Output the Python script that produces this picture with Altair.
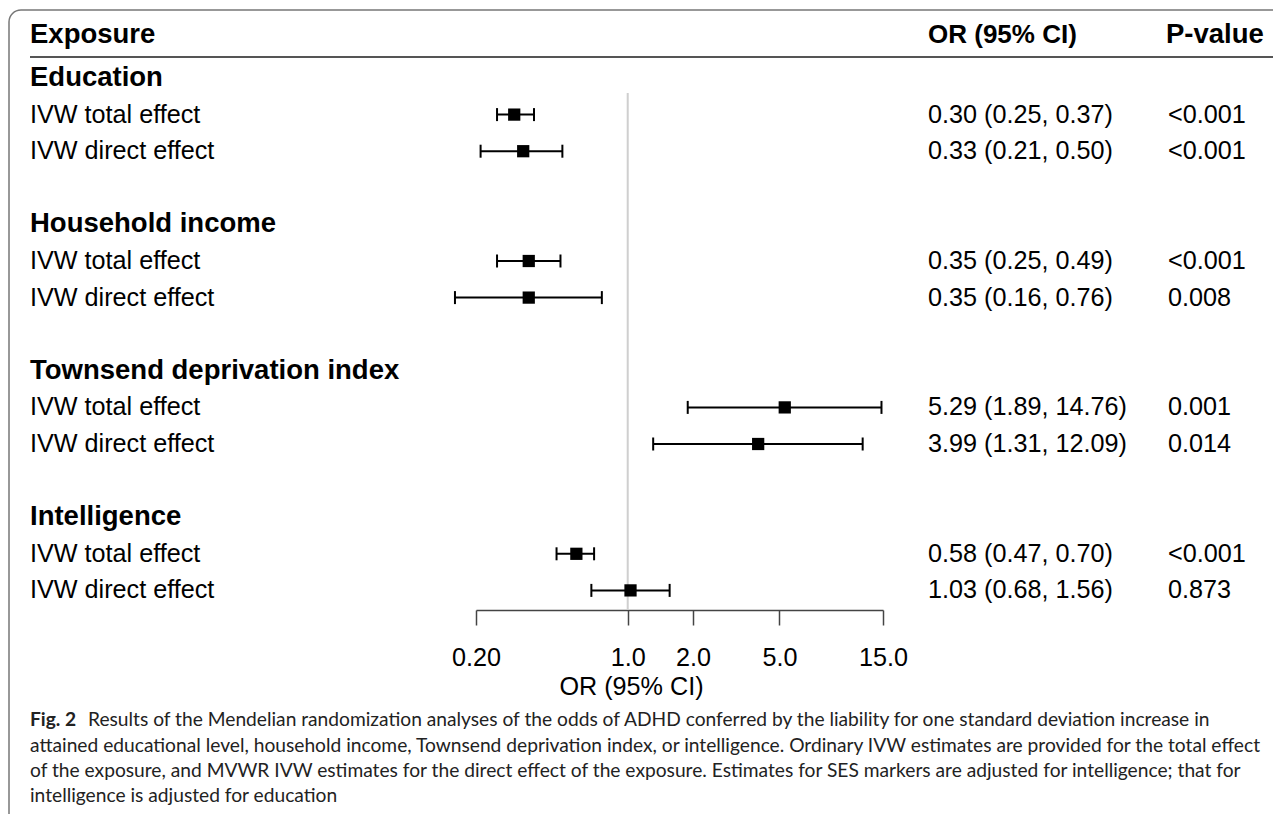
import altair as alt
import pandas as pd

# ---------------- data ----------------
groups = ["Education", "Household income", "Townsend deprivation index", "Intelligence"]
effects = ["IVW total effect", "IVW direct effect"]
or_est = [0.30, 0.33, 0.35, 0.35, 5.29, 3.99, 0.58, 1.03]
ci_lo = [0.25, 0.21, 0.25, 0.16, 1.89, 1.31, 0.47, 0.68]
ci_hi = [0.37, 0.50, 0.49, 0.76, 14.76, 12.09, 0.70, 1.56]
p_values = ["<0.001", "<0.001", "<0.001", "0.008", "0.001", "0.014", "<0.001", "0.873"]
headers = ["Exposure", "OR (95% CI)", "P-value"]
tick_values = [0.2, 1.0, 2.0, 5.0, 15.0]
axis_title = "OR (95% CI)"
caption_bold = "Fig. 2"
caption_lines = [
    "Results of the Mendelian randomization analyses of the odds of ADHD conferred by the liability for one standard deviation increase in",
    "attained educational level, household income, Townsend deprivation index, or intelligence. Ordinary IVW estimates are provided for the total effect",
    "of the exposure, and MVWR IVW estimates for the direct effect of the exposure. Estimates for SES markers are adjusted for intelligence; that for",
    "intelligence is adjusted for education",
]

# rows: each group takes a heading row, two effect rows and a blank row
grp_rows, eff_rows = [], []
k = 0
for gi, g in enumerate(groups):
    grp_rows.append({"row": gi * 4, "label": g})
    for ei, e in enumerate(effects):
        eff_rows.append({
            "row": gi * 4 + 1 + ei,
            "label": e,
            "est": or_est[k],
            "lo": ci_lo[k],
            "hi": ci_hi[k],
            "ortxt": f"{or_est[k]:.2f} ({ci_lo[k]:.2f}, {ci_hi[k]:.2f})",
            "p": p_values[k],
        })
        k += 1
grp_df = pd.DataFrame(grp_rows)
eff_df = pd.DataFrame(eff_rows)
one = pd.DataFrame({"a": [0]})

FONT = "Liberation Sans"
CAPFONT = "Lato"
FS = 25.2
HFS = 27.5
CFS = 19.2

xscale = alt.Scale(type="log", domain=[0.2, 15], range=[468, 875], nice=False)
yscale = alt.Scale(domain=[0, 14], range=[70, 582.4], nice=False, zero=False)

xaxis = alt.Axis(
    values=tick_values,
    labelExpr="datum.value < 0.5 ? format(datum.value, '.2f') : format(datum.value, '.1f')",
    grid=False,
    domainColor="#444444",
    domainWidth=1.5,
    tickColor="#444444",
    tickWidth=1.5,
    tickSize=15,
    labelFont=FONT,
    labelFontSize=FS,
    labelColor="black",
    labelPadding=20,
    labelFlush=False,
    labelOverlap=False,
    title=axis_title,
    titleFont=FONT,
    titleFontSize=FS,
    titleFontWeight="normal",
    titleColor="black",
    titleX=623,
    titleY=84,
    titleAlign="center",
    titleBaseline="alphabetic",
)

X = lambda f: alt.X(f, type="quantitative", scale=xscale, axis=xaxis)
Y = alt.Y("row:Q", scale=yscale, axis=None)

frame = alt.Chart(one).mark_rect(
    fill="white", fillOpacity=0, stroke="#777777", strokeWidth=1.5, cornerRadius=12
).encode(x=alt.value(1), x2=alt.value(1600), y=alt.value(2), y2=alt.value(1400))

underline = alt.Chart(one).mark_rule(color="#555555", strokeWidth=2).encode(
    x=alt.value(22), x2=alt.value(1266), y=alt.value(49)
)

hdr_pos = [22, 920, 1158]
hdr_size = [HFS, 26, HFS]
hdr_layers = [
    alt.Chart(one).mark_text(
        text=h, font=FONT, fontSize=s, fontWeight="bold", align="left", baseline="middle", color="black"
    ).encode(x=alt.value(px), y=alt.value(27))
    for h, px, s in zip(headers, hdr_pos, hdr_size)
]

refline = alt.Chart(one).mark_rule(color="#cfcfcf", strokeWidth=2).encode(
    x=alt.X(datum=1.0, type="quantitative", scale=xscale, axis=xaxis),
    y=alt.value(85), y2=alt.value(602),
)

base = alt.Chart(eff_df)

ci = base.mark_rule(color="black", strokeWidth=2).encode(x=X("lo"), x2="hi:Q", y=Y)
cap_lo = base.mark_tick(orient="vertical", size=13, thickness=2, color="black", opacity=1).encode(
    x=X("lo"), y=Y
)
cap_hi = base.mark_tick(orient="vertical", size=13, thickness=2, color="black", opacity=1).encode(
    x=X("hi"), y=Y
)
squares = base.mark_square(size=150, color="black", opacity=1, filled=True).encode(x=X("est"), y=Y)

grp_text = alt.Chart(grp_df).mark_text(
    font=FONT, fontSize=HFS, fontWeight="bold", align="left", baseline="middle", color="black"
).encode(x=alt.value(22), y=Y, text="label:N")
eff_text = base.mark_text(
    font=FONT, fontSize=FS, align="left", baseline="middle", color="black"
).encode(x=alt.value(22), y=Y, text="label:N")
or_text = base.mark_text(
    font=FONT, fontSize=FS, align="left", baseline="middle", color="black"
).encode(x=alt.value(920), y=Y, text="ortxt:N")
p_text = base.mark_text(
    font=FONT, fontSize=FS, align="left", baseline="middle", color="black"
).encode(x=alt.value(1160), y=Y, text="p:N")

cap_y = [712, 738, 763, 788]
cap_layers = [
    alt.Chart(one).mark_text(
        text=caption_bold, font=CAPFONT, fontSize=CFS, fontWeight="bold", align="left",
        baseline="middle", color="#222222"
    ).encode(x=alt.value(22), y=alt.value(cap_y[0]))
]
for i, line in enumerate(caption_lines):
    cap_layers.append(
        alt.Chart(one).mark_text(
            text=line, font=CAPFONT, fontSize=CFS, align="left", baseline="middle", color="#222222"
        ).encode(x=alt.value(80 if i == 0 else 22), y=alt.value(cap_y[i]))
    )

chart = alt.layer(
    frame, underline, *hdr_layers, refline, ci, cap_lo, cap_hi, squares,
    grp_text, eff_text, or_text, p_text, *cap_layers
).properties(
    width=1265, height=602,
    autosize=alt.AutoSizeParams(type="none"),
    padding={"left": 0, "top": 0, "right": 0, "bottom": 204},
).configure_view(stroke=None)

chart.save("out.html", embed_options={"renderer": "svg", "actions": False})
